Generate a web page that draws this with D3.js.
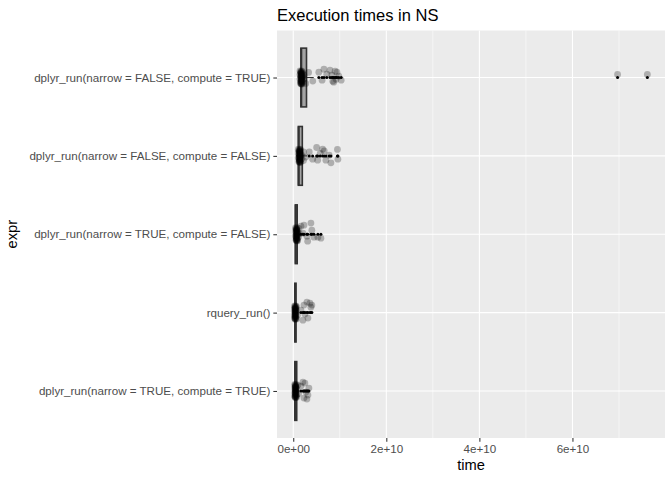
<!DOCTYPE html>
<html>
<head>
<meta charset="utf-8">
<script src="https://cdn.jsdelivr.net/npm/d3@7"></script>
<style>
  body { margin: 0; background: #fff; }
  text { font-family: "Liberation Sans", Arial, sans-serif; }
</style>
</head>
<body>
<svg id="chart" width="672" height="480"></svg>
<script>
// all times are in units of 1e9 ns
const NS = 1e9;

const categories = [
  "dplyr_run(narrow = FALSE, compute = TRUE)",
  "dplyr_run(narrow = FALSE, compute = FALSE)",
  "dplyr_run(narrow = TRUE, compute = FALSE)",
  "rquery_run()",
  "dplyr_run(narrow = TRUE, compute = TRUE)",
];

const boxQ1 = [1.65, 1.1, 0.45, 0.35, 0.35];
const boxMedian = [1.72, 1.18, 0.55, 0.42, 0.45];
const boxQ3 = [2.85, 1.95, 0.85, 0.6, 0.75];
const whiskerLow = [1.2, 0.65, 0.35, 0.3, 0.3];
const whiskerHigh = [4.4, 3.0, 1.4, 1.0, 1.2];

// dense runs near the median, per row: [time, number of runs]
const clusterTimes = [
  [[1.45, 3], [1.6, 7], [1.7, 10], [1.8, 9], [1.9, 6], [2.05, 3], [2.3, 2], [2.7, 1], [3.3, 1], [4.2, 1]],
  [[1.1, 3], [1.25, 8], [1.35, 10], [1.45, 8], [1.6, 5], [1.8, 2], [2.2, 2], [2.7, 1]],
  [[0.5, 3], [0.62, 8], [0.72, 10], [0.82, 8], [0.95, 4], [1.15, 2], [1.3, 1]],
  [[0.3, 4], [0.38, 10], [0.45, 10], [0.55, 7], [0.7, 3], [0.9, 1]],
  [[0.32, 4], [0.42, 9], [0.5, 10], [0.6, 7], [0.75, 3], [1.0, 1], [1.15, 1]],
];
const clusterJitter = [-0.085, -0.04, 0.02, 0.07, -0.06, 0.0, 0.05, -0.02, 0.08, -0.075, 0.035, -0.01,
  0.06, -0.05, 0.015, -0.03, 0.075, -0.065, 0.045, -0.045, 0.025, 0.085, -0.015, 0.005];

// slow runs, read one by one: [time, vertical jitter in row units]
const slowRuns = [
  [[5.5, -0.068], [6.2, 0.034], [6.6, -0.106], [7.2, -0.042], [7.9, -0.093], [8.3, -0.029],
   [8.5, 0.047], [8.7, 0.06], [9.0, -0.08], [9.2, 0.022], [9.4, -0.068], [9.8, -0.017],
   [10.3, 0.034], [69.7, -0.04], [76.1, -0.04]],
  [[3.44, -0.051], [4.17, 0.042], [5.03, -0.107], [5.24, 0.055], [5.8, -0.031], [6.32, -0.085],
   [6.66, -0.064], [7.02, 0.055], [7.73, -0.009], [8.1, 0.089], [9.5, -0.082], [9.6, 0.042]],
  [[1.65, -0.103], [2.08, -0.014], [2.3, -0.116], [2.94, 0.024], [3.1, 0.088], [3.8, -0.142],
   [4.0, -0.052], [4.45, 0.037], [5.3, 0.037], [5.95, 0.05]],
  [[1.65, -0.032], [2.08, 0.096], [2.3, -0.096], [2.51, 0.019], [2.94, -0.134], [3.16, 0.07],
   [3.59, -0.121], [3.8, -0.07], [4.0, -0.096]],
  [[1.65, -0.062], [2.08, -0.114], [2.3, 0.091], [2.51, -0.101], [2.73, 0.014], [2.94, 0.103],
   [3.16, 0.052], [3.37, -0.037]],
];

const xTicks = [0, 2e10, 4e10, 6e10];
const xMinor = [1e10, 3e10, 5e10, 7e10];

const panel = { left: 277, right: 665, top: 30.5, bottom: 438 };

const svg = d3.select("#chart");

const rows = categories.map((name, i) => {
  const points = [];
  clusterTimes[i].forEach(([t, count]) => {
    for (let k = 0; k < count; k += 1) {
      points.push({ time: t * NS, jitter: clusterJitter[points.length % clusterJitter.length] });
    }
  });
  slowRuns[i].forEach(([t, jitter]) => points.push({ time: t * NS, jitter }));
  return {
    name,
    q1: boxQ1[i] * NS,
    median: boxMedian[i] * NS,
    q3: boxQ3[i] * NS,
    low: whiskerLow[i] * NS,
    high: whiskerHigh[i] * NS,
    points,
  };
});

const allTimes = rows.flatMap((row) => row.points.map((p) => p.time));
const [minTime, maxTime] = d3.extent(allTimes);
const expand = (maxTime - minTime) * 0.05;

const x = d3
  .scaleLinear()
  .domain([minTime - expand, maxTime + expand])
  .range([panel.left, panel.right]);

const y = d3
  .scalePoint()
  .domain(categories)
  .range([panel.top, panel.bottom])
  .padding(0.6);

const step = y.step();
const boxHalf = step * 0.75 / 2;

svg.append("rect")
  .attr("x", panel.left)
  .attr("y", panel.top)
  .attr("width", panel.right - panel.left)
  .attr("height", panel.bottom - panel.top)
  .attr("fill", "#ebebeb");

const grid = svg.append("g").attr("stroke", "#fff");

grid.selectAll("line.minor")
  .data(xMinor.filter((d) => x(d) < panel.right))
  .join("line")
  .attr("class", "minor")
  .attr("x1", (d) => x(d)).attr("x2", (d) => x(d))
  .attr("y1", panel.top).attr("y2", panel.bottom)
  .attr("stroke-width", 0.53);

grid.selectAll("line.major-x")
  .data(xTicks)
  .join("line")
  .attr("class", "major-x")
  .attr("x1", (d) => x(d)).attr("x2", (d) => x(d))
  .attr("y1", panel.top).attr("y2", panel.bottom)
  .attr("stroke-width", 1.07);

grid.selectAll("line.major-y")
  .data(categories)
  .join("line")
  .attr("class", "major-y")
  .attr("x1", panel.left).attr("x2", panel.right)
  .attr("y1", (d) => y(d)).attr("y2", (d) => y(d))
  .attr("stroke-width", 1.07);

// boxplots
const boxes = svg.append("g")
  .selectAll("g")
  .data(rows)
  .join("g")
  .attr("transform", (row) => `translate(0,${y(row.name)})`);

boxes.append("line")
  .attr("x1", (row) => x(row.low)).attr("x2", (row) => x(row.q1))
  .attr("stroke", "#333").attr("stroke-width", 1.07);

boxes.append("line")
  .attr("x1", (row) => x(row.q3)).attr("x2", (row) => x(row.high))
  .attr("stroke", "#333").attr("stroke-width", 1.07);

boxes.append("rect")
  .attr("x", (row) => x(row.q1))
  .attr("width", (row) => x(row.q3) - x(row.q1))
  .attr("y", -boxHalf)
  .attr("height", boxHalf * 2)
  .attr("fill", "#a3a3a3")
  .attr("stroke", "#333")
  .attr("stroke-width", 1.6);

boxes.append("line")
  .attr("x1", (row) => x(row.median)).attr("x2", (row) => x(row.median))
  .attr("y1", -boxHalf).attr("y2", boxHalf)
  .attr("stroke", "#333").attr("stroke-width", 2.1);

boxes.selectAll("circle.outlier")
  .data((row) => row.points.filter((p) => p.time > row.high || p.time < row.low))
  .join("circle")
  .attr("class", "outlier")
  .attr("cx", (p) => x(p.time))
  .attr("cy", 0)
  .attr("r", 1.5)
  .attr("fill", "#000");

// jittered runs
boxes.selectAll("circle.run")
  .data((row) => row.points)
  .join("circle")
  .attr("class", "run")
  .attr("cx", (p) => x(p.time))
  .attr("cy", (p) => p.jitter * step)
  .attr("r", 3.4)
  .attr("fill", "#000")
  .attr("fill-opacity", 0.26);

// axes
const xAxis = svg.append("g")
  .attr("transform", `translate(0,${panel.bottom})`)
  .call(
    d3.axisBottom(x)
      .tickValues(xTicks)
      .tickSize(3.67)
      .tickPadding(2.9)
      .tickFormat((d) => (d === 0 ? "0e+00" : d3.format(".0e")(d))),
  );

const yAxis = svg.append("g")
  .attr("transform", `translate(${panel.left},0)`)
  .call(d3.axisLeft(y).tickSize(3.67).tickPadding(2.9));

[xAxis, yAxis].forEach((axis) => {
  axis.select(".domain").remove();
  axis.selectAll(".tick line").attr("stroke", "#333").attr("stroke-width", 1.07);
  axis.selectAll(".tick text")
    .attr("fill", "#4d4d4d")
    .style("font-size", "11.6px")
    .style("font-family", "'Liberation Sans', Arial, sans-serif");
});

svg.append("text")
  .attr("x", (panel.left + panel.right) / 2)
  .attr("y", 470)
  .attr("text-anchor", "middle")
  .style("font-size", "14.7px")
  .text("time");

svg.append("text")
  .attr("transform", `translate(17,${(panel.top + panel.bottom) / 2}) rotate(-90)`)
  .attr("text-anchor", "middle")
  .style("font-size", "14.7px")
  .text("expr");

svg.append("text")
  .attr("x", panel.left)
  .attr("y", 20.7)
  .style("font-size", "16.5px")
  .text("Execution times in NS");
</script>
</body>
</html>
